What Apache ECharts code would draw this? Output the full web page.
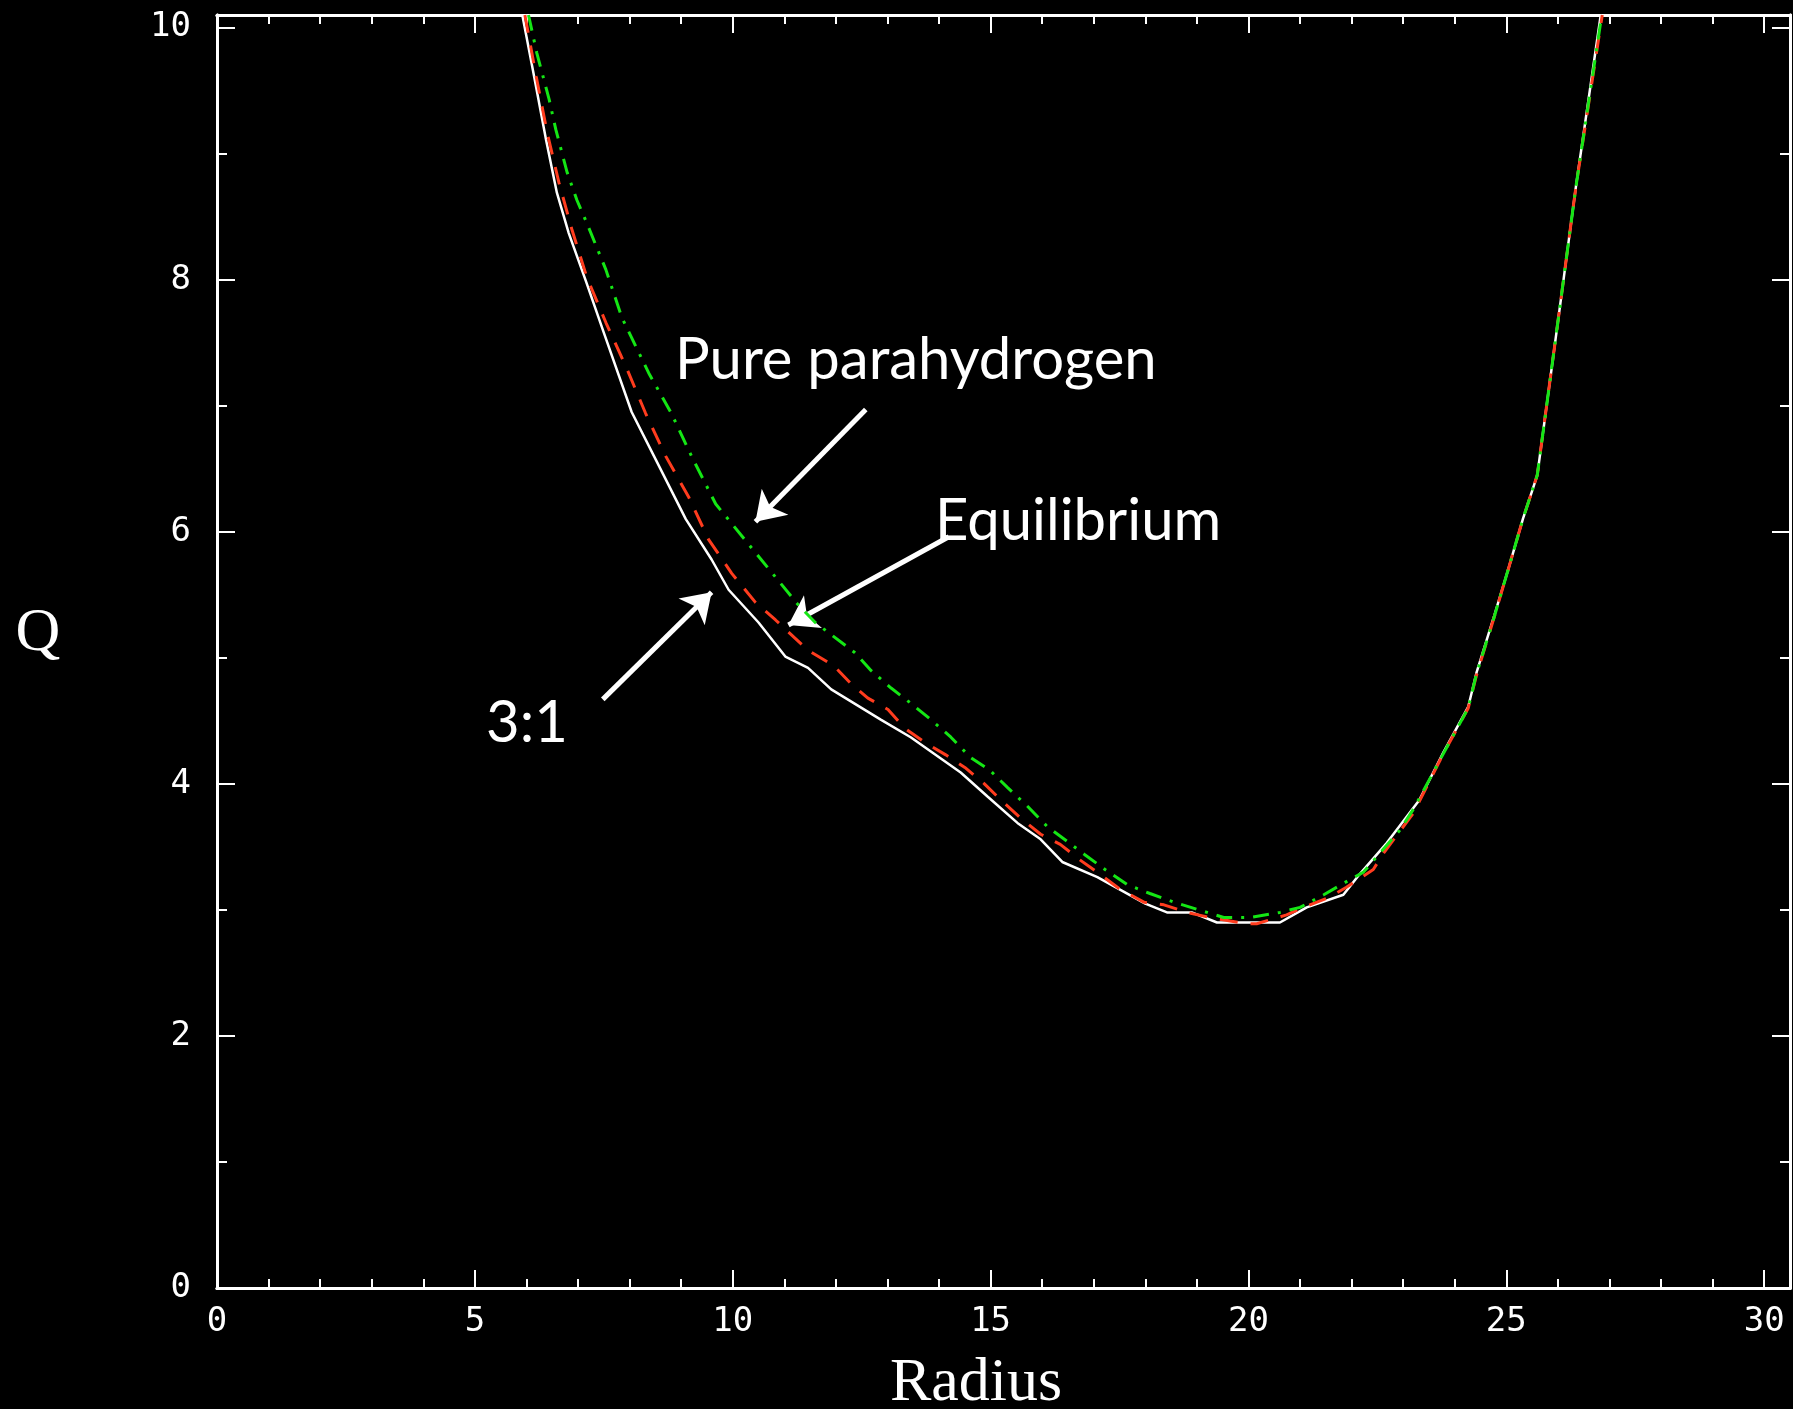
<!DOCTYPE html>
<html><head><meta charset="utf-8">
<script src="https://cdn.jsdelivr.net/npm/echarts@6/dist/echarts.min.js"></script>
<style>html,body{margin:0;padding:0;background:#000;}#c{width:1793px;height:1409px;}</style>
</head><body><div id="c"></div>
<script>
// Axis ranges and tick spacing
const xRange = [0, 30.5];
const yRange = [0, 10.1];
const xMajorStep = 5, xMinorStep = 1;
const yMajorStep = 2, yMinorStep = 1;

// Q vs Radius, 3:1 ortho/para (solid white)
const q31 = [[5.92,10.1],[6.15,9.61],[6.38,9.11],[6.59,8.69],[6.82,8.37],[7.16,7.98],[7.5,7.58],[8.04,6.95],[8.51,6.57],[9.09,6.1],[9.59,5.78],[9.92,5.54],[10.5,5.28],[11.02,5.01],[11.46,4.92],[11.91,4.75],[12.87,4.51],[13.45,4.37],[14.42,4.09],[14.94,3.9],[15.52,3.69],[15.97,3.56],[16.39,3.38],[17.07,3.26],[18.0,3.05],[18.42,2.98],[18.9,2.98],[19.39,2.9],[20.61,2.9],[21.13,3.02],[21.84,3.12],[22.15,3.28],[22.68,3.53],[23.31,3.87],[23.78,4.25],[24.26,4.61],[24.42,4.88],[24.74,5.3],[25.05,5.72],[25.32,6.1],[25.6,6.45],[26.06,7.85],[26.35,8.74],[26.83,10.1]];
// Equilibrium (red dashed)
const qEquilibrium = [[5.97,10.1],[6.19,9.61],[6.4,9.17],[6.63,8.77],[6.88,8.4],[7.17,8.02],[7.54,7.66],[7.93,7.31],[8.31,6.94],[8.7,6.6],[9.14,6.28],[9.53,5.94],[9.98,5.67],[10.44,5.44],[10.83,5.3],[11.46,5.06],[11.95,4.94],[12.28,4.8],[12.62,4.68],[13.01,4.59],[13.34,4.44],[13.72,4.33],[14.13,4.23],[14.5,4.13],[14.88,4.0],[15.23,3.86],[15.58,3.73],[15.97,3.6],[16.35,3.52],[16.72,3.4],[17.13,3.28],[17.49,3.17],[17.98,3.06],[18.36,3.04],[18.81,2.98],[19.25,2.94],[19.97,2.89],[20.16,2.89],[20.74,2.96],[21.07,3.02],[21.57,3.1],[21.9,3.18],[22.42,3.32],[22.62,3.45],[23.2,3.77],[23.78,4.24],[24.26,4.6],[24.42,4.86],[24.74,5.29],[25.05,5.72],[25.32,6.1],[25.6,6.45],[26.06,7.85],[26.35,8.74],[26.86,10.1]];
// Pure parahydrogen (green dash-dot)
const qPara = [[6.04,10.1],[6.2,9.8],[6.44,9.43],[6.57,9.19],[6.79,8.85],[6.98,8.63],[7.17,8.45],[7.54,8.08],[7.85,7.7],[8.37,7.26],[8.81,6.94],[9.2,6.6],[9.67,6.22],[10.25,5.93],[10.83,5.64],[11.27,5.42],[11.6,5.28],[12.37,5.04],[12.68,4.9],[13.07,4.76],[13.45,4.64],[13.84,4.51],[14.23,4.37],[14.61,4.21],[14.98,4.11],[15.33,3.97],[15.72,3.82],[16.1,3.66],[16.43,3.56],[16.82,3.44],[17.22,3.32],[17.65,3.2],[18.09,3.13],[18.56,3.06],[19.04,3.0],[19.52,2.94],[20.03,2.94],[20.61,2.98],[21.0,3.02],[21.46,3.12],[21.84,3.21],[22.23,3.3],[22.93,3.63],[23.2,3.8],[23.78,4.24],[24.26,4.6],[24.42,4.87],[24.74,5.29],[25.05,5.72],[25.32,6.1],[25.6,6.45],[26.06,7.85],[26.35,8.74],[26.85,10.1]];

// Annotation arrows in data coordinates: [tail, tip]
const arrowPure = [[12.58,6.97],[10.44,6.08]];
const arrowEquil = [[14.19,5.96],[11.08,5.26]];
const arrow31 = [[7.48,4.67],[9.59,5.52]];

const annotationTexts = ['Pure parahydrogen', 'Equilibrium', '3:1'];
const xTitle = 'Radius', yTitle = 'Q';

const WHITE = '#ffffff';
const labelFont = {color: WHITE, fontFamily: 'DejaVu Sans Mono', fontSize: 34};

function xAxis(pos, step, len, withLabels) {
  return {
    type: 'value', position: pos, min: xRange[0], max: xRange[1], interval: step,
    axisLine: {show: true, onZero: false, lineStyle: {color: WHITE, width: 3}},
    axisTick: {show: true, inside: true, length: len, lineStyle: {color: WHITE, width: 2}},
    axisLabel: withLabels ? Object.assign({show: true, margin: 17,
      formatter: v => (Math.abs(v % xMajorStep) < 1e-9 ? String(v) : '')}, labelFont) : {show: false},
    splitLine: {show: false}
  };
}
function yAxis(pos, step, len, withLabels) {
  return {
    type: 'value', position: pos, min: yRange[0], max: yRange[1], interval: step,
    axisLine: {show: true, onZero: false, lineStyle: {color: WHITE, width: 3}},
    axisTick: {show: true, inside: true, length: len, lineStyle: {color: WHITE, width: 2}},
    axisLabel: withLabels ? Object.assign({show: true, margin: 26,
      formatter: v => (Math.abs(v % yMajorStep) < 1e-9 ? String(v) : '')}, labelFont) : {show: false},
    splitLine: {show: false}
  };
}

const chart = echarts.init(document.getElementById('c'), null, {renderer: 'canvas'});
const annFont = '58px Lato';
chart.setOption({
  backgroundColor: '#000000',
  animation: false,
  grid: {left: 217, top: 15, width: 1578, height: 1273, containLabel: false},
  xAxis: [
    xAxis('bottom', xMajorStep, 18, true),
    xAxis('bottom', xMinorStep, 9, false),
    xAxis('top', xMajorStep, 18, false),
    xAxis('top', xMinorStep, 9, false)
  ],
  yAxis: [
    yAxis('left', yMajorStep, 18, true),
    yAxis('left', yMinorStep, 10, false),
    yAxis('right', yMajorStep, 18, false),
    yAxis('right', yMinorStep, 10, false)
  ],
  series: [
    {
      name: '3:1', type: 'line', data: q31, showSymbol: false, symbol: 'none', clip: true, z: 3,
      lineStyle: {color: WHITE, width: 2.5, type: 'solid'},
      markLine: {
        silent: true, symbol: ['none', 'arrow'], symbolSize: 28, animation: false,
        label: {show: false},
        lineStyle: {color: WHITE, width: 5, type: 'solid'},
        data: [arrowPure, arrowEquil, arrow31].map(a => [{coord: a[0]}, {coord: a[1]}])
      }
    },
    {
      name: 'Equilibrium', type: 'line', data: qEquilibrium, showSymbol: false, symbol: 'none', clip: true, z: 4,
      lineStyle: {color: '#ff3c1e', width: 3, type: [18, 13]}
    },
    {
      name: 'Pure parahydrogen', type: 'line', data: qPara, showSymbol: false, symbol: 'none', clip: true, z: 5,
      lineStyle: {color: '#14e614', width: 3, type: [16, 9, 3, 9]}
    }
  ],
  graphic: [
    {type: 'text', x: 675, y: 360, style: {text: annotationTexts[0], fill: WHITE, font: annFont, align: 'left', verticalAlign: 'middle'}},
    {type: 'text', x: 935, y: 521, style: {text: annotationTexts[1], fill: WHITE, font: annFont, align: 'left', verticalAlign: 'middle'}},
    {type: 'text', x: 486, y: 723, style: {text: annotationTexts[2], fill: WHITE, font: annFont, align: 'left', verticalAlign: 'middle'}},
    {type: 'text', x: 976, y: 1384, style: {text: xTitle, fill: WHITE, font: '62px "Liberation Serif"', align: 'center', verticalAlign: 'middle'}},
    {type: 'text', x: 38, y: 634, style: {text: yTitle, fill: WHITE, font: '62px "Liberation Serif"', align: 'center', verticalAlign: 'middle'}}
  ]
});
</script>
</body></html>
